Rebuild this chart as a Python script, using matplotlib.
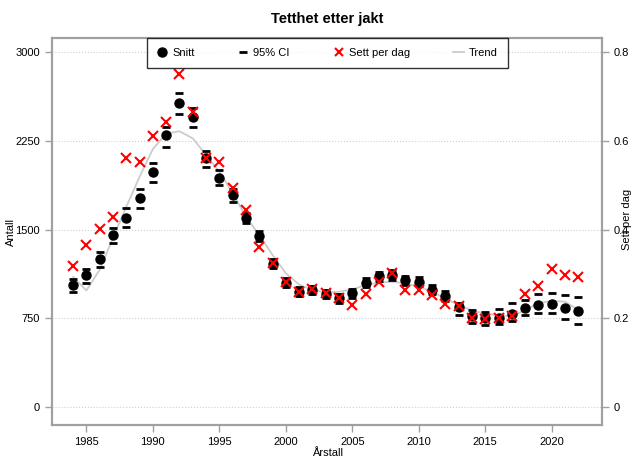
import matplotlib.pyplot as plt
from matplotlib.lines import Line2D

plt.rcParams['font.family'] = ['Liberation Sans', 'DejaVu Sans']

years = list(range(1984, 2023))
snitt = [1030, 1115, 1250, 1450, 1600, 1766, 1986, 2295, 2566, 2453,
         2102, 1938, 1792, 1597, 1445, 1212, 1052, 974, 989, 955,
         920, 962, 1050, 1105, 1118, 1070, 1060, 992, 940, 848,
         770, 750, 752, 790, 840, 860, 874, 840, 810]
ci_high = [1079, 1170, 1307, 1515, 1684, 1842, 2059, 2370, 2655, 2528,
           2163, 2000, 1839, 1640, 1485, 1250, 1090, 1010, 1025, 990,
           958, 1000, 1090, 1145, 1160, 1110, 1100, 1032, 982, 876,
           820, 805, 826, 876, 904, 952, 961, 946, 932]
ci_low = [972, 1045, 1180, 1383, 1524, 1684, 1899, 2200, 2474, 2369,
          2025, 1876, 1735, 1555, 1405, 1175, 1015, 938, 953, 920,
          882, 924, 1010, 1065, 1076, 1030, 1020, 952, 898, 777,
          713, 693, 699, 727, 777, 792, 792, 744, 699]
sett = [0.318, 0.365, 0.401, 0.429, 0.560, 0.551, 0.610, 0.643, 0.751, 0.665,
        0.560, 0.553, 0.493, 0.445, 0.361, 0.325, 0.282, 0.260, 0.265, 0.258,
        0.245, 0.230, 0.254, 0.282, 0.301, 0.264, 0.264, 0.252, 0.232, 0.228,
        0.200, 0.198, 0.200, 0.205, 0.254, 0.272, 0.310, 0.297, 0.292]
trend = [1100, 985, 1160, 1430, 1693, 1946, 2180, 2310, 2330, 2270,
         2130, 1990, 1806, 1608, 1453, 1285, 1130, 1035, 989, 968,
         974, 994, 1031, 1051, 1059, 1045, 1017, 974, 918, 862,
         815, 790, 775, 765, 820, 876, 898, 890, 820]

left_ticks = [0, 750, 1500, 2250, 3000]
right_ticks = [0, 0.2, 0.4, 0.6, 0.8]
x_ticks = [1985, 1990, 1995, 2000, 2005, 2010, 2015, 2020]

grey = '#a0a0a0'
fig = plt.figure(figsize=(6.4, 4.58), dpi=100)
ax = fig.add_axes([0.081, 0.072, 0.86, 0.845])
ax2 = ax.twinx()

ax.plot(years, trend, color='#cccccc', lw=1.3, zorder=1)
ax.plot(years, snitt, 'o', color='black', ms=6.5, zorder=3)
ax.plot(years, ci_high, '_', color='black', ms=5.5, mew=2, zorder=3)
ax.plot(years, ci_low, '_', color='black', ms=5.5, mew=2, zorder=3)
ax2.plot(years, sett, 'x', color='red', ms=7, mew=1.5, zorder=4)

ax.set_xlim(1982.4, 2023.8)
ax.set_ylim(-152, 3118)
ax2.set_ylim(-152 / 3750, 3118 / 3750)
ax.set_xticks(x_ticks)
ax.set_yticks(left_ticks)
ax.set_yticklabels(['0', '750', '1500', '2250', '3000'])
ax2.set_yticks(right_ticks)
ax2.set_yticklabels(['0', '0.2', '0.4', '0.6', '0.8'])
ax.grid(axis='y', color='#d0d0d0', ls=':', lw=0.8)

for a in (ax, ax2):
    for s in a.spines.values():
        s.set_color(grey)
        s.set_linewidth(1.5)
    a.tick_params(colors=grey, labelcolor='black', labelsize=8, length=5, width=1)

ax.set_title('Tetthet etter jakt', fontsize=10.5, fontweight='bold', pad=11)
ax.set_xlabel('Årstall', fontsize=8, labelpad=0.5)
ax.set_ylabel('Antall', fontsize=8)
ax.yaxis.set_label_coords(-0.065, 0.5)
ax2.set_ylabel('Sett per dag', fontsize=8, rotation=90)
ax2.yaxis.set_label_coords(1.036, 0.53)

handles = [
    Line2D([], [], marker='o', color='black', ls='none', ms=6.5),
    Line2D([], [], marker='_', color='black', ls='none', ms=6, mew=2),
    Line2D([], [], marker='x', color='red', ls='none', ms=6, mew=1.5),
    Line2D([], [], color='#cccccc', lw=1.3),
]
leg = ax2.legend(handles, ['Snitt', '95% CI', 'Sett per dag', 'Trend'],
                 loc='upper center', bbox_to_anchor=(0.5, 1.0), ncol=4,
                 fontsize=8, frameon=True, fancybox=False, handlelength=1,
                 handletextpad=0.4, columnspacing=3.9, borderpad=0.9,
                 borderaxespad=0, bbox_transform=ax2.transAxes)
leg.get_frame().set_edgecolor('black')
leg.get_frame().set_linewidth(1)

fig.savefig('out.png', dpi=100)
